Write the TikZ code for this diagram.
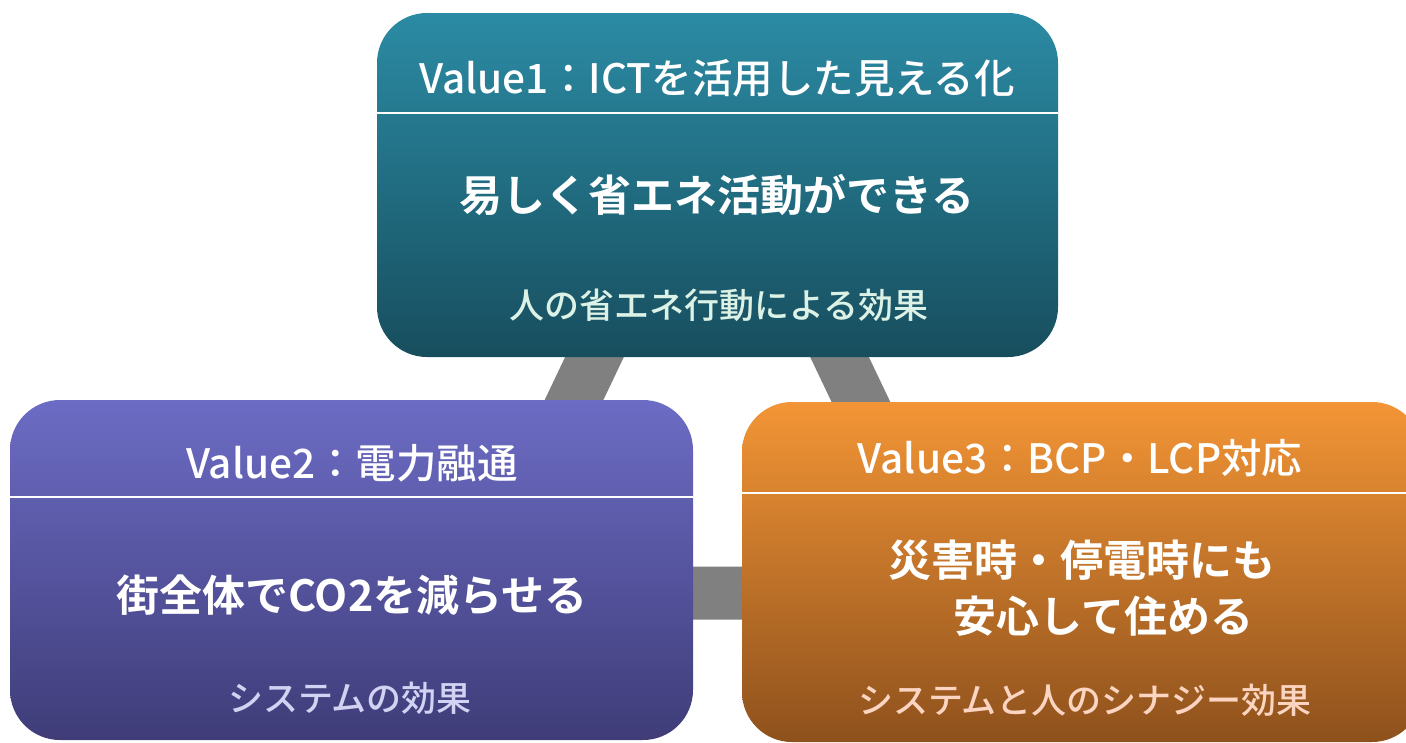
\documentclass[tikz,border=0pt]{standalone}
\usepackage{fontspec}
\setmainfont{Noto Sans CJK JP}
\newfontfamily\jpmed{Noto Sans CJK JP Medium}
\newfontfamily\jpbold{Noto Sans CJK JP Bold}
\definecolor{barGray}{HTML}{808080}
\definecolor{tealTop}{HTML}{2B8BA4}
\definecolor{tealBot}{HTML}{174E5E}
\definecolor{purTop}{HTML}{6C6CC5}
\definecolor{purBot}{HTML}{3F3C78}
\definecolor{orTop}{HTML}{F39536}
\definecolor{orBot}{HTML}{8E511C}
\definecolor{subTeal}{HTML}{DDF2E6}
\definecolor{subPur}{HTML}{D2D2F2}
\definecolor{subOr}{HTML}{FBD5C2}
\begin{document}
\begin{tikzpicture}[x=1pt,y=-1pt,
  box/.style={rectangle, rounded corners=50pt, inner sep=0pt},
  ttl/.style={text=white, font=\jpmed\fontsize{40.5}{46}\selectfont},
  mainT/.style={text=white, font=\jpbold\fontsize{43}{56}\selectfont, align=center},
  subT/.style={font=\jpmed\fontsize{35}{40}\selectfont},
  sep/.style={draw=white, line width=2pt},
  bar/.style={draw=barGray, line width=53pt, line join=miter}]
\useasboundingbox (0,0) rectangle (1406,742);
\clip (0,0) rectangle (1406,742);
% triangle of gray bars behind the boxes
\coordinate (ta) at (717,100);
\coordinate (tl) at (482,593);
\coordinate (tr) at (952,593);
\draw[bar] (ta) -- (tl) -- (tr) -- cycle;
% boxes
\node[box, minimum width=681pt, minimum height=344pt, top color=tealTop, bottom color=tealBot] (v1) at (717.5,185) {};
\node[box, minimum width=683pt, minimum height=340pt, top color=purTop, bottom color=purBot] (v2) at (351.5,570) {};
\node[box, minimum width=680pt, minimum height=340pt, top color=orTop, bottom color=orBot] (v3) at (1082,572) {};
% separators
\coordinate (s1) at (0,113);
\coordinate (s2) at (0,497);
\coordinate (s3) at (0,493);
\draw[sep] (v1.west |- s1) -- (v1.east |- s1);
\draw[sep] (v2.west |- s2) -- (v2.east |- s2);
\draw[sep] (v3.west |- s3) -- (v3.east |- s3);
% texts
\node[ttl] (t1) at (717,78) {Value1：ICTを活用した見える化};
\node[mainT] (m1) at (717,195) {易しく省エネ活動ができる};
\node[subT, text=subTeal] (b1) at (719,305) {人の省エネ行動による効果};
\node[ttl] (t2) at (352,463) {Value2：電力融通};
\node[mainT] (m2) at (352,595) {街全体でCO2を減らせる};
\node[subT, text=subPur] (b2) at (350,698) {システムの効果};
\node[ttl] (t3) at (1080,458) {Value3：BCP・LCP対応};
\node[mainT] (m3) at (1082,588) {災害時・停電時にも\\\hspace{1em}安心して住める};
\node[subT, text=subOr] (b3) at (1085,700) {システムと人のシナジー効果};
\end{tikzpicture}
\end{document}
